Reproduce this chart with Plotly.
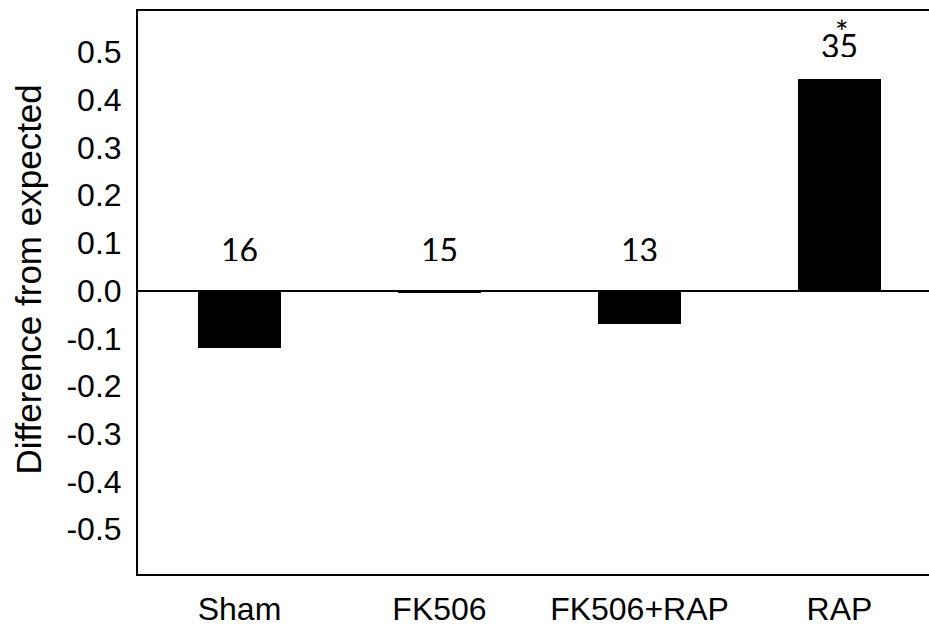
import plotly.graph_objects as go

categories = ["Sham", "FK506", "FK506+RAP", "RAP"]
values = [-0.120, -0.005, -0.069, 0.444]
n_labels = ["16", "15", "13", "35"]
significant = [False, False, False, True]
y_ticks = [0.5, 0.4, 0.3, 0.2, 0.1, 0.0, -0.1, -0.2, -0.3, -0.4, -0.5]
y_title = "Difference from expected"

fig = go.Figure()
fig.add_trace(go.Bar(
    x=categories, y=values, width=0.415,
    marker=dict(color="black", line=dict(width=0)),
    showlegend=False,
))

annotations = []
for c, v, lab, sig in zip(categories, values, n_labels, significant):
    base = max(v, 0)
    shift = 42 if v <= 0.02 else 34
    annotations.append(dict(
        x=c, y=base, xref="x", yref="y", text=lab, showarrow=False,
        yanchor="middle", yshift=shift, height=24,
        font=dict(family="Lato", size=32, color="black"),
    ))
    if sig:
        annotations.append(dict(
            x=c, y=base, xref="x", yref="y", text="*", showarrow=False,
            yanchor="middle", yshift=shift + 24, xshift=2,
            height=18, valign="top",
            font=dict(family="Lato", size=32, color="black"),
        ))

annotations.append(dict(
    x=-0.139, y=0.523, xref="paper", yref="paper", text=y_title,
    showarrow=False, textangle=-90, xanchor="center", yanchor="middle",
    font=dict(family="Liberation Sans", size=35, color="black"),
))

fig.update_layout(
    width=929, height=627,
    margin=dict(l=138, r=0, t=11, b=46),
    plot_bgcolor="white", paper_bgcolor="white",
    annotations=annotations,
    bargap=0,
)
fig.update_xaxes(
    type="category", range=[-0.5075, 3.4475],
    showline=True, linecolor="black", linewidth=2, mirror=True,
    showgrid=False, ticks="outside", ticklen=6, tickcolor="rgba(0,0,0,0)",
    tickfont=dict(family="Liberation Sans", size=32, color="black"),
)
fig.update_yaxes(
    range=[-0.594, 0.586],
    tickvals=y_ticks, ticktext=[f"{t:.1f}" for t in y_ticks],
    showline=True, linecolor="black", linewidth=2,
    showgrid=False, zeroline=True, zerolinecolor="black", zerolinewidth=2,
    ticks="outside", ticklen=8, tickcolor="rgba(0,0,0,0)",
    tickfont=dict(family="Liberation Sans", size=32, color="black"),
)

fig.write_html("out.html")
